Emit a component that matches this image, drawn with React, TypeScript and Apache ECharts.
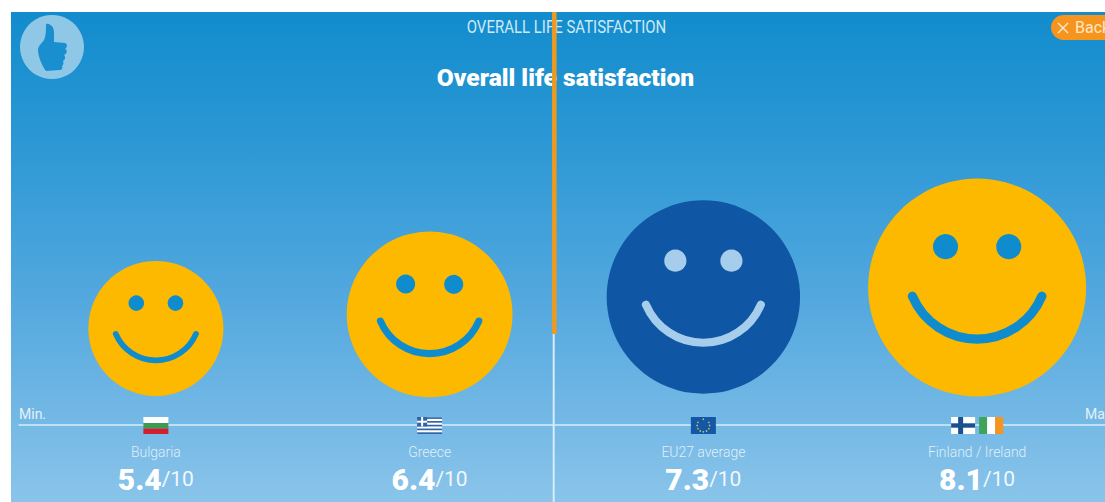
import React, { useEffect, useRef } from "react";
import * as echarts from "echarts";

const categories = ["Bulgaria", "Greece", "EU27 average", "Finland / Ireland"];
const scores = [5.4, 6.4, 7.3, 8.1];
const maxScore = "/10";
const pageTitle = "OVERALL LIFE SATISFACTION";
const heading = "Overall life satisfaction";
const backLabel = "Back";
const scaleEnds = ["Min.", "Max."];

const NARROW = 'Roboto, sans-serif';
const BOLD = 'Roboto, "Open Sans", sans-serif';
const BASE_Y = 396;
const PX_PER_POINT = 30.7;
const FLAG_TOP = 417;
const FLAG_H = 17;
const FACE_NUDGE = [0, 1.3, -2.3, 0.5];
const thumb =
  "M46 24 C50 23 54 27 54 32 L54 42 L65 43 C68 44 67 48 65 49 C68 50 67 54 64 55 C66 57 65 60 63 61 C64 63 63 66 62 66 C63 68 62 70 60 70 L46 71 C42 66 38 56 38 50 C38 46 42 43 44 40 C46 36 46 30 46 24 Z";

function rect(x: number, y: number, width: number, height: number, fill: string) {
  return { type: "rect", shape: { x, y, width, height }, style: { fill } };
}

function flag(index: number, cx: number) {
  const t = FLAG_TOP;
  const h = FLAG_H;
  if (index === 0) {
    const x = cx - 12.5;
    return [rect(x, t, 25, 6, "#ffffff"), rect(x, t + 6, 25, 5.5, "#3c9a52"), rect(x, t + 11.5, 25, 5.5, "#d01f2e")];
  }
  if (index === 1) {
    const x = cx - 12.5;
    const blue = "#2f64a8";
    const parts: any[] = [rect(x, t, 25, h, "#ffffff")];
    for (let s = 0; s < 5; s++) parts.push(rect(x, t + (s * h) / 4.5 + 0.2, 25, 1.7, blue));
    parts.push(rect(x, t, 10, 9.4, blue), rect(x + 4, t, 2, 9.4, "#ffffff"), rect(x, t + 3.7, 10, 2, "#ffffff"));
    return parts;
  }
  if (index === 2) {
    const x = cx - 12.5;
    const parts: any[] = [rect(x, t, 25, h, "#1357a6")];
    for (let s = 0; s < 12; s++) {
      const a = (s * Math.PI) / 6;
      parts.push({
        type: "circle",
        shape: { cx: cx + Math.cos(a) * 6.3, cy: t + h / 2 + Math.sin(a) * 6.3, r: 0.8 },
        style: { fill: "#c9c65c" },
      });
    }
    return parts;
  }
  const fx = cx - 26;
  const ix = cx + 2;
  return [
    rect(fx, t, 24, h, "#ffffff"),
    rect(fx + 7, t, 5, h, "#1b4f8f"),
    rect(fx, t + 6.3, 24, 4.4, "#1b4f8f"),
    rect(ix, t, 8, h, "#3fa45a"),
    rect(ix + 8, t, 8, h, "#ffffff"),
    rect(ix + 16, t, 8, h, "#f7941d"),
  ];
}

function renderItem(params: any, api: any) {
  const i = params.dataIndex;
  const value = api.value(1);
  const [cx, top] = api.coord([i, value]);
  const r = (BASE_Y - top) / 2;
  const cy = top + r + FACE_NUDGE[i];
  const eu = categories[i].startsWith("EU");
  const face = eu ? "#0f56a5" : "#fdb900";
  const ink = eu ? "#a6cdec" : "#0f8ccd";
  const children: any[] = [
    { type: "circle", shape: { cx, cy, r }, style: { fill: face } },
    { type: "circle", shape: { cx: cx - 0.29 * r, cy: cy - 0.375 * r, r: 0.115 * r }, style: { fill: ink } },
    { type: "circle", shape: { cx: cx + 0.29 * r, cy: cy - 0.375 * r, r: 0.115 * r }, style: { fill: ink } },
    {
      type: "arc",
      shape: {
        cx,
        cy: cy - 0.172 * r,
        r: 0.645 * r,
        startAngle: (23 * Math.PI) / 180,
        endAngle: (157 * Math.PI) / 180,
        clockwise: true,
      },
      style: { stroke: ink, lineWidth: 0.085 * r, lineCap: "round", fill: "none" },
    },
    ...flag(i, cx),
    {
      type: "text",
      x: cx,
      y: 452,
      scaleX: 0.93,
      style: {
        text: categories[i],
        x: 0,
        y: 0,
        align: "center",
        verticalAlign: "middle",
        fill: "rgba(255,255,255,0.78)",
        font: `300 15px ${NARROW}`,
      },
    },
    {
      type: "text",
      style: {
        text: `{a|${scores[i].toFixed(1)}}{b|${maxScore}}`,
        x: cx,
        y: 479,
        align: "center",
        verticalAlign: "middle",
        rich: {
          a: { font: `900 30px ${BOLD}`, fill: "#ffffff" },
          b: { font: `400 21px ${BOLD}`, fill: "rgba(255,255,255,0.9)" },
        },
      },
    },
  ];
  return { type: "group", children };
}

export default function App() {
  const ref = useRef<HTMLDivElement>(null);
  useEffect(() => {
    document.body.style.margin = "0";
    document.body.style.background = "#ffffff";
    document.body.style.overflow = "hidden";
    echarts.graphic.registerShape("thumbUp", echarts.graphic.extendPath(thumb as any, {}) as any);
    const chart = echarts.init(ref.current!, undefined, { renderer: "svg" });
    chart.setOption({
      animation: false,
      title: {
        text: heading,
        left: 560.5,
        top: 60,
        textAlign: "center",
        textStyle: { color: "#ffffff", fontFamily: BOLD, fontWeight: 900, fontSize: 24.6 },
        z: 3,
      },
      grid: { left: 19, width: 1095, top: BASE_Y - 9 * PX_PER_POINT, height: 9 * PX_PER_POINT },
      xAxis: {
        type: "category",
        data: categories,
        offset: 29,
        axisLine: { show: true, lineStyle: { color: "#d8ebf7", width: 1.5 } },
        axisTick: { show: false },
        axisLabel: { show: false },
        splitLine: { show: false },
        z: 2,
      },
      yAxis: { type: "value", min: 1, max: 10, show: false },
      series: [
        {
          type: "custom",
          clip: false,
          renderItem,
          encode: { x: 0, y: 1 },
          data: scores.map((s, i) => [i, s]),
          z: 4,
        },
      ],
      graphic: [
        {
          type: "rect",
          z: 0,
          silent: true,
          shape: { x: 11, y: 12, width: 1094, height: 490 },
          style: {
            fill: {
              type: "linear",
              x: 0,
              y: 0,
              x2: 0,
              y2: 1,
              colorStops: [
                { offset: 0, color: "#128ccd" },
                { offset: 0.25, color: "#2a97d4" },
                { offset: 0.6, color: "#55a9df" },
                { offset: 1, color: "#8ac4ea" },
              ],
            },
          },
        },
        { type: "circle", z: 1, shape: { cx: 52, cy: 47, r: 32 }, style: { fill: "#8fc8e6" } },
        { type: "thumbUp", z: 2, x: 0, y: 0, style: { fill: "#1a8fd0" } },
        {
          type: "text",
          z: 2,
          x: 566.5,
          y: 27,
          scaleX: 0.833,
          style: {
            text: pageTitle,
            x: 0,
            y: 0,
            align: "center",
            verticalAlign: "middle",
            fill: "#cdeaf6",
            font: `18px ${NARROW}`,
          },
        },
        {
          type: "text",
          z: 2,
          style: { text: scaleEnds[0], x: 19, y: 414, align: "left", verticalAlign: "middle", fill: "#e3f1fa", font: `14px ${NARROW}` },
        },
        {
          type: "text",
          z: 2,
          style: { text: scaleEnds[1], x: 1085, y: 414, align: "left", verticalAlign: "middle", fill: "#e3f1fa", font: `14px ${NARROW}` },
        },
        { type: "line", z: 6, shape: { x1: 554.3, y1: 12, x2: 554.3, y2: 334 }, style: { stroke: "#ee9a1e", lineWidth: 4.5 } },
        { type: "line", z: 3, shape: { x1: 553.7, y1: 334, x2: 553.7, y2: 502 }, style: { stroke: "#d8ebf7", lineWidth: 2 } },
        {
          type: "rect",
          z: 6,
          shape: { x: 1051, y: 15, width: 80, height: 25, r: 12.5 },
          style: { fill: "#f7941d" },
        },
        { type: "line", z: 7, shape: { x1: 1058, y1: 23, x2: 1068, y2: 33 }, style: { stroke: "#fde8c8", lineWidth: 1.5 } },
        { type: "line", z: 7, shape: { x1: 1068, y1: 23, x2: 1058, y2: 33 }, style: { stroke: "#fde8c8", lineWidth: 1.5 } },
        {
          type: "text",
          z: 7,
          style: { text: backLabel, x: 1075, y: 27, align: "left", verticalAlign: "middle", fill: "#fde8c8", font: `16px ${NARROW}` },
        },
      ],
    });
    return () => chart.dispose();
  }, []);
  return (
    <div style={{ width: 1105, height: 502, overflow: "hidden" }}>
      <div ref={ref} style={{ width: 1130, height: 502 }} />
    </div>
  );
}
